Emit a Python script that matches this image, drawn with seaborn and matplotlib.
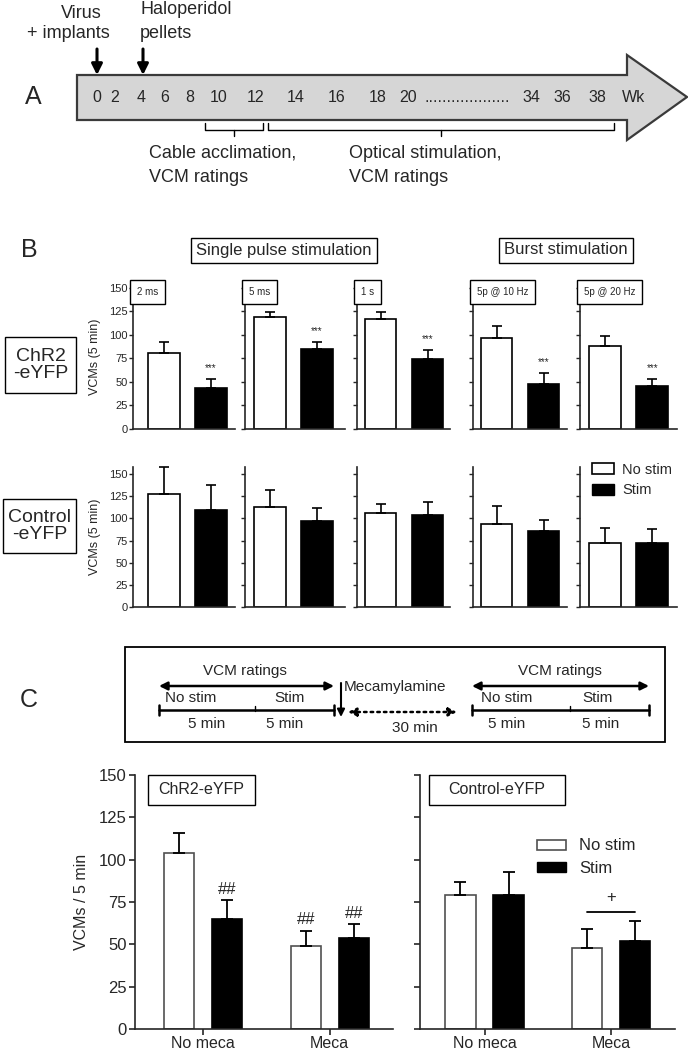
import numpy as np
import pandas as pd
import matplotlib
matplotlib.use("Agg")
import matplotlib.pyplot as plt
from matplotlib.patches import Polygon, Rectangle, Patch
import seaborn as sns

#%% data
# panel A: timeline (weeks)
week_labels = ["0", "2", "4", "6", "8", "10", "12", "14", "16", "18", "20", "34", "36", "38", "Wk"]

# panel B: VCMs (5 min), mean and sem, per stimulation type
stim_types = ["2 ms", "5 ms", "1 s", "5p @ 10 Hz", "5p @ 20 Hz"]
conditions = ["No stim", "Stim"]
chr2_nostim = [81, 119, 117, 97, 88]
chr2_nostim_sem = [11, 5, 7, 12, 11]
chr2_stim = [44, 85, 74, 48, 46]
chr2_stim_sem = [9, 7, 10, 11, 7]
ctrl_nostim = [127, 113, 106, 94, 72]
ctrl_nostim_sem = [31, 19, 10, 20, 17]
ctrl_stim = [110, 97, 104, 86, 72]
ctrl_stim_sem = [28, 15, 14, 12, 16]

# panel C: mecamylamine
c_groups = ["No meca", "Meca"]
c_chr2_nostim = [104, 49]
c_chr2_nostim_sem = [12, 9]
c_chr2_stim = [65, 54]
c_chr2_stim_sem = [11, 8]
c_ctrl_nostim = [79, 48]
c_ctrl_nostim_sem = [8, 11]
c_ctrl_stim = [79, 52]
c_ctrl_stim_sem = [14, 12]

#%% style
sns.set_style("ticks")
plt.rcParams['font.family'] = ['Liberation Sans', 'DejaVu Sans']
plt.rcParams['axes.linewidth'] = 1.2

W, H = 688, 1050
fig = plt.figure(figsize=(W / 100, H / 100), dpi=100)

# overlay in pixel coords for the schematic parts (no background, on top)
ov = fig.add_axes([0, 0, 1, 1])
ov.set_xlim(0, W)
ov.set_ylim(H, 0)
ov.axis("off")
ov.set_zorder(10)


def px_axes(x0, y0, x1, y1):
    return fig.add_axes([x0 / W, 1 - y1 / H, (x1 - x0) / W, (y1 - y0) / H])


def box_text(x0, y0, x1, y1, text, size, **kw):
    ov.add_patch(Rectangle((x0, y0), x1 - x0, y1 - y0, fill=False, ec="black", lw=1.0))
    ov.text((x0 + x1) / 2, (y0 + y1) / 2, text, ha="center", va="center", fontsize=size, **kw)


#%% panel A
ov.text(33, 97, "A", fontsize=18, ha="center", va="center")
ov.add_patch(Polygon([(77, 75), (627, 75), (627, 55), (687, 97), (627, 140), (627, 120), (77, 120)],
                     closed=True, fc="#d6d6d6", ec="#3a3a3a", lw=1.6))
week_x = [97, 115, 141, 165, 190, 219, 256, 296, 337, 378, 408, 531, 562, 597, 634]
for lab, x in zip(week_labels, week_x):
    ov.text(x, 98, lab, fontsize=11.5, ha="center", va="center")
ov.text(424, 98, "." * 19, fontsize=11.5, ha="left", va="center")

for x in [97, 143]:
    ov.annotate("", xy=(x, 75), xytext=(x, 49),
                arrowprops=dict(arrowstyle="-|>", lw=2.2, color="black", mutation_scale=16,
                                shrinkA=0, shrinkB=0))
ov.text(81, 13, "Virus", fontsize=13, ha="center", va="center")
ov.text(68, 34, "+ implants", fontsize=13, ha="center", va="center")
ov.text(140, 10, "Haloperidol", fontsize=13, ha="left", va="center")
ov.text(140, 33, "pellets", fontsize=13, ha="left", va="center")

for x0, x1 in [(205, 263), (268, 614)]:
    ov.plot([x0, x0, x1, x1], [123, 130, 130, 123], color="black", lw=1)
    ov.plot([(x0 + x1) / 2] * 2, [130, 136], color="black", lw=1)
ov.text(149, 153, "Cable acclimation,", fontsize=13, ha="left", va="center")
ov.text(149, 178, "VCM ratings", fontsize=13, ha="left", va="center")
ov.text(349, 153, "Optical stimulation,", fontsize=13, ha="left", va="center")
ov.text(349, 178, "VCM ratings", fontsize=13, ha="left", va="center")

#%% panel B
ov.text(29, 250, "B", fontsize=18, ha="center", va="center")
ov.text(284, 250, "Single pulse stimulation", fontsize=12, ha="center", va="center",
        bbox=dict(boxstyle="square,pad=0.3", fc="white", ec="black", lw=1))
ov.text(566, 250, "Burst stimulation", fontsize=12, ha="center", va="center",
        bbox=dict(boxstyle="square,pad=0.3", fc="white", ec="black", lw=1))
box_text(5, 337, 76, 393, "ChR2\n-eYFP", 14, linespacing=1.0)
box_text(3, 499, 76, 553, "Control\n-eYFP", 14, linespacing=1.0)

cols_x = [(133, 235), (245, 345), (357, 450), (473, 567), (580, 677)]
left_off = [-0.65, -0.53, -0.5, -0.5, -0.54]
px_per_unit = 47
rows = [
    dict(y=(285, 429), top=153, ns=chr2_nostim, nse=chr2_nostim_sem, st=chr2_stim, ste=chr2_stim_sem, stars=True),
    dict(y=(467, 607), top=158, ns=ctrl_nostim, nse=ctrl_nostim_sem, st=ctrl_stim, ste=ctrl_stim_sem, stars=False),
]
for r, row in enumerate(rows):
    for i, (x0, x1) in enumerate(cols_x):
        ax = px_axes(x0, row["y"][0], x1, row["y"][1])
        vals = [row["ns"][i], row["st"][i]]
        errs = [row["nse"][i], row["ste"][i]]
        df = pd.DataFrame({"condition": conditions, "vcm": vals})
        sns.barplot(data=df, x="condition", y="vcm", hue="condition", hue_order=conditions,
                    palette=["white", "black"], edgecolor="black", linewidth=1.2,
                    width=0.68, errorbar=None, legend=False, ax=ax)
        xs = [p.get_x() + p.get_width() / 2 for p in ax.patches]
        ax.errorbar(xs, vals, yerr=[[0, 0], errs], fmt="none", ecolor="black",
                    elinewidth=1.2, capsize=3.5, capthick=1.2, clip_on=False, zorder=1)
        ax.set_ylim(0, row["top"])
        ax.set_xlim(left_off[i], left_off[i] + (x1 - x0) / px_per_unit)
        ax.set_yticks(np.arange(0, 151, 25))
        ax.set_xticks([])
        ax.set_xlabel("")
        ax.tick_params(axis="y", direction="out", length=3, width=1, labelsize=8, pad=1)
        sns.despine(ax=ax)
        if i == 0:
            ax.set_ylabel("VCMs (5 min)", fontsize=9)
            ax.yaxis.set_label_coords(-0.31, 0.5)
        else:
            ax.set_yticklabels([])
            ax.set_ylabel("")
        if row["stars"]:
            ax.text(xs[1], vals[1] + errs[1] + 12, "***", ha="center", va="center", fontsize=7)
            ax.text(0.04, 0.985, stim_types[i], transform=ax.transAxes, ha="left", va="top",
                    fontsize=7, bbox=dict(boxstyle="square,pad=0.7", fc="white", ec="black", lw=1))
        if r == 1 and i == 4:
            handles = [Patch(fc="white", ec="black", lw=1.2), Patch(fc="black", ec="black")]
            ax.legend(handles, conditions, loc="upper left", bbox_to_anchor=(0.12, 1.03),
                      frameon=False, fontsize=10.5, handlelength=1.5, handleheight=0.8,
                      labelspacing=0.45, handletextpad=0.6, borderpad=0, borderaxespad=0)

#%% panel C
ov.text(29, 700, "C", fontsize=18, ha="center", va="center")
ov.add_patch(Rectangle((125, 647), 540, 95, fill=False, ec="black", lw=1.3))


def dbl_arrow(x0, x1, y, ls="-"):
    ov.annotate("", xy=(x1, y), xytext=(x0, y),
                arrowprops=dict(arrowstyle="<|-|>", lw=1.8, ls=ls, color="black",
                                mutation_scale=12, shrinkA=0, shrinkB=0))


def scale_seg(x0, xm, x1, y):
    ov.plot([x0, x1], [y, y], color="black", lw=1.8)
    for x in (x0, x1):
        ov.plot([x, x], [y - 5, y + 5], color="black", lw=1.8)
    ov.plot([xm, xm], [y - 4, y + 1], color="black", lw=1)


for cx, x0, xm, x1, ns_x, st_x, m1, m2 in [(245, 159, 255, 334, 165, 290, 207, 285),
                                           (560, 472, 570, 649, 481, 598, 507, 601)]:
    ov.text(cx, 671, "VCM ratings", fontsize=11, ha="center", va="center")
    dbl_arrow(x0, x1, 686)
    ov.text(ns_x, 698, "No stim", fontsize=11, ha="left", va="center")
    ov.text(st_x, 698, "Stim", fontsize=11, ha="center", va="center")
    scale_seg(x0, xm, x1, 710)
    ov.text(m1, 724, "5 min", fontsize=11, ha="center", va="center")
    ov.text(m2, 724, "5 min", fontsize=11, ha="center", va="center")
ov.text(344, 687, "Mecamylamine", fontsize=11, ha="left", va="center")
ov.annotate("", xy=(341, 717), xytext=(341, 683),
            arrowprops=dict(arrowstyle="-|>", lw=1.5, color="black", mutation_scale=11,
                            shrinkA=0, shrinkB=0))
dbl_arrow(348, 457, 712, ls=":")
ov.text(415, 728, "30 min", fontsize=11, ha="center", va="center")

c_panels = [
    dict(x=(135, 393), left=-0.54, name="ChR2-eYFP", box=(148, 255),
         ns=c_chr2_nostim, nse=c_chr2_nostim_sem, st=c_chr2_stim, ste=c_chr2_stim_sem),
    dict(x=(420, 675), left=-0.51, name="Control-eYFP", box=(429, 565),
         ns=c_ctrl_nostim, nse=c_ctrl_nostim_sem, st=c_ctrl_stim, ste=c_ctrl_stim_sem),
]
for k, pnl in enumerate(c_panels):
    x0, x1 = pnl["x"]
    ax = px_axes(x0, 775, x1, 1029)
    df = pd.DataFrame({"group": c_groups * 2,
                       "stim": [conditions[0]] * 2 + [conditions[1]] * 2,
                       "vcm": pnl["ns"] + pnl["st"]})
    sns.barplot(data=df, x="group", y="vcm", hue="stim", hue_order=conditions,
                palette=["white", "black"], width=0.76, gap=0.37, edgecolor="black",
                linewidth=1.2, errorbar=None, legend=False, ax=ax)
    for p in ax.patches:
        if p.get_facecolor()[0] > 0.5:
            p.set_edgecolor("#505050")
    vals = pnl["ns"] + pnl["st"]
    errs = pnl["nse"] + pnl["ste"]
    xs = [p.get_x() + p.get_width() / 2 for p in ax.patches]
    ax.errorbar(xs, vals, yerr=[[0] * 4, errs], fmt="none", ecolor="black",
                elinewidth=1.3, capsize=4.5, capthick=1.3, zorder=1)
    ax.set_ylim(0, 150)
    ax.set_xlim(pnl["left"], pnl["left"] + (x1 - x0) / 126.5)
    ax.set_yticks(np.arange(0, 151, 25))
    ax.set_xlabel("")
    ax.tick_params(axis="both", direction="out", length=4, width=1.2, labelsize=12, pad=2)
    ax.tick_params(axis="x", labelsize=11.5, pad=1)
    sns.despine(ax=ax)
    ov.text(sum(pnl["box"]) / 2, 790, pnl["name"], fontsize=11.5, ha="center", va="center")
    ov.add_patch(Rectangle((pnl["box"][0], 775), pnl["box"][1] - pnl["box"][0], 30,
                           fill=False, ec="black", lw=1))
    if k == 0:
        ax.set_ylabel("VCMs / 5 min", fontsize=11.5)
        ax.yaxis.set_label_coords(-0.18, 0.5)
        for j in [2, 1, 3]:
            ax.text(xs[j], vals[j] + errs[j] + 2, "##", ha="center", va="bottom", fontsize=12)
    else:
        ax.set_yticklabels([])
        ax.set_ylabel("")
        top = max(vals[1] + errs[1], vals[3] + errs[3]) + 5
        ax.plot([xs[1], xs[3]], [top, top], color="black", lw=1.3)
        ax.text((xs[1] + xs[3]) / 2, top + 4, "+", ha="center", va="bottom", fontsize=12)
        handles = [Patch(fc="white", ec="#505050", lw=1.2), Patch(fc="black", ec="black")]
        ax.legend(handles, conditions, loc="upper left", bbox_to_anchor=(0.46, 0.75),
                  frameon=False, fontsize=12, handlelength=1.7, handleheight=0.55,
                  labelspacing=0.45, handletextpad=0.8, borderpad=0, borderaxespad=0)

fig.savefig("out.png", dpi=100)
